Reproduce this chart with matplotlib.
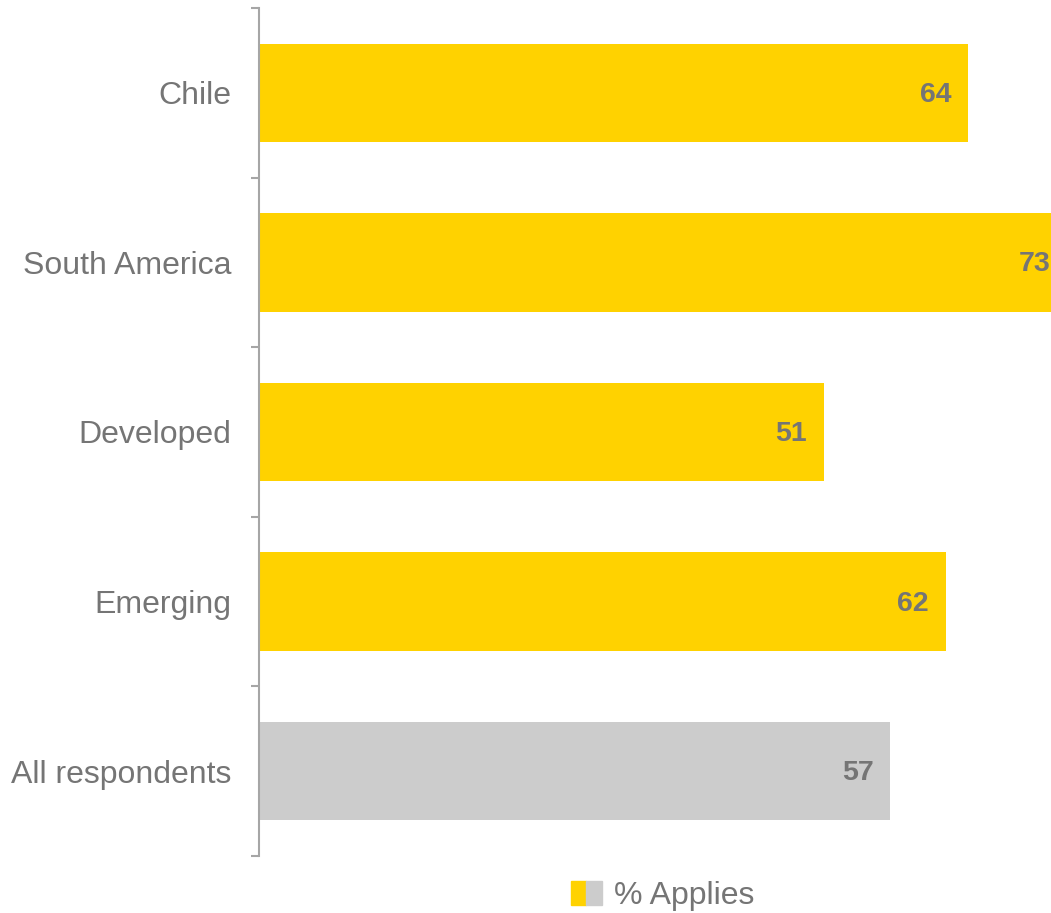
import matplotlib.pyplot as plt
from matplotlib.patches import Patch
from matplotlib.legend_handler import HandlerTuple

plt.rcParams['font.family'] = ['Liberation Sans', 'DejaVu Sans']

categories = ['Chile', 'South America', 'Developed', 'Emerging', 'All respondents']
values = [64, 73, 51, 62, 57]
bar_colors = ['#FFD200', '#FFD200', '#FFD200', '#FFD200', '#CCCCCC']
legend_label = '% Applies'

text_gray = '#757575'
axis_gray = '#A6A6A6'

fig = plt.figure(figsize=(10.51, 9.13), dpi=100)
ax = fig.add_axes([259 / 1051, 1 - 856 / 913, 1 - 259 / 1051, (856 - 8) / 913])

pos = list(range(len(categories)))
ax.barh(pos, values, height=0.58, color=bar_colors, zorder=2)

for p, v in zip(pos, values):
    ax.annotate(str(v), xy=(v, p), xytext=(-12, -1.5), textcoords='offset points',
                ha='right', va='center', fontsize=20.5, fontweight='bold',
                color=text_gray, annotation_clip=False)

ax.set_xlim(0, 71.5)
ax.set_ylim(len(categories) - 0.5, -0.5)

# category labels at bar centres, ticks at boundaries
ax.set_yticks(pos)
ax.set_yticklabels(categories)
ax.set_yticks([p - 0.5 for p in pos] + [len(categories) - 0.5], minor=True)
ax.tick_params(axis='y', which='major', length=0, pad=20, labelsize=23, labelcolor=text_gray)
ax.tick_params(axis='y', which='minor', length=5.5, width=1.5, color=axis_gray)
ax.set_xticks([])

for s in ['top', 'right', 'bottom']:
    ax.spines[s].set_visible(False)
ax.spines['left'].set_color(axis_gray)
ax.spines['left'].set_linewidth(1.5)
ax.spines['left'].set_zorder(3)

handle = (Patch(color='#FFD200'), Patch(color='#CCCCCC'))
fig.legend([handle], [legend_label], handler_map={tuple: HandlerTuple(ndivide=None, pad=0)},
           loc='center', bbox_to_anchor=(663 / 1051, 1 - 896 / 913), frameon=False,
           fontsize=23, labelcolor=text_gray, handlelength=0.95, handleheight=0.8,
           handletextpad=0.4)

fig.savefig('out.png', dpi=100)
